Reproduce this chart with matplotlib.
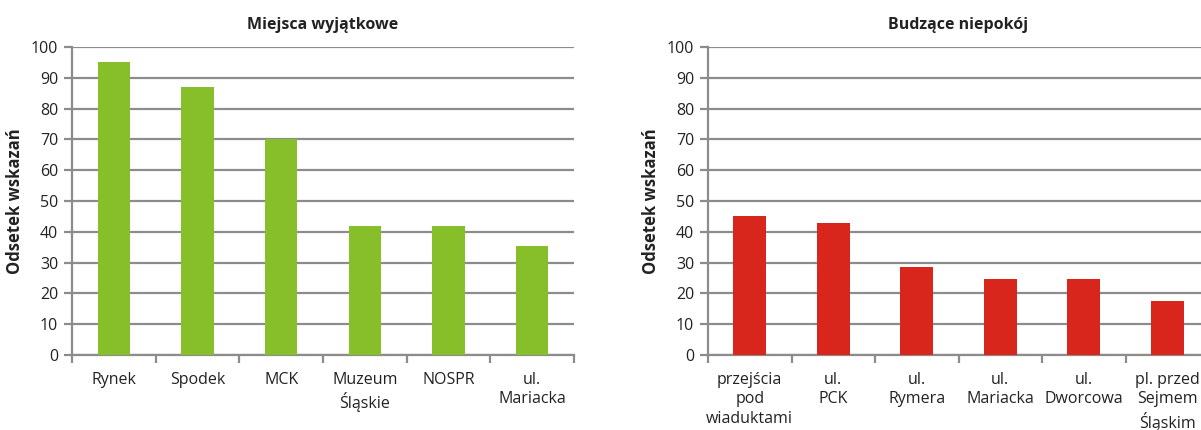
import matplotlib
matplotlib.use("Agg")
import matplotlib.pyplot as plt
import numpy as np

plt.rcParams['font.family'] = ['Open Sans', 'DejaVu Sans']

# Data
places_good = ["Rynek", "Spodek", "MCK", "Muzeum\nŚląskie", "NOSPR", "ul.\nMariacka"]
values_good = [95, 87, 70, 42, 42, 35.5]

places_bad = ["przejścia\npod\nwiaduktami", "ul.\nPCK", "ul.\nRymera",
              "ul.\nMariacka", "ul.\nDworcowa", "pl. przed\nSejmem\nŚląskim"]
values_bad = [45, 43, 28.7, 24.8, 24.8, 17.5]

titles = ["Miejsca wyjątkowe", "Budzące niepokój"]
ylabel = "Odsetek wskazań"
yticks = list(range(0, 101, 10))

GREEN = "#86bf2a"
RED = "#d9261c"
GRID = "#8c8c8c"
TEXT = "#222222"

W, H = 1201, 430
fig = plt.figure(figsize=(W / 100, H / 100), dpi=100)

def px_axes(x0, x1, y_top, y_bot):
    return fig.add_axes([x0 / W, 1 - y_bot / H, (x1 - x0) / W, (y_bot - y_top) / H])

ax1 = px_axes(72, 574, 47, 355)
ax2 = px_axes(708, 1209, 47, 355)

def draw(ax, labels, values, color, title):
    n = len(labels)
    x = np.arange(n)
    ax.bar(x, values, width=0.39, color=color, zorder=3)
    ax.set_xlim(-0.5, n - 0.5)
    ax.set_ylim(0, 100)
    ax.set_yticks(yticks)
    ax.set_yticklabels([str(v) for v in yticks], fontsize=11.5, color=TEXT)
    ax.yaxis.grid(True, color=GRID, linewidth=1.6, zorder=0)
    ax.set_axisbelow(True)
    # category labels at centres, tick marks at boundaries
    ax.set_xticks(x)
    ax.set_xticklabels(labels, fontsize=11.5, color=TEXT, linespacing=1.3, va="top")
    ax.tick_params(axis="x", which="major", length=0, pad=12)
    ax.set_xticks(np.arange(n + 1) - 0.5, minor=True)
    ax.tick_params(axis="x", which="minor", length=6, width=1.6, color=GRID, direction="out")
    ax.tick_params(axis="y", length=6, width=1.6, color=GRID, pad=4)
    for side in ("top", "right"):
        ax.spines[side].set_visible(False)
    for side in ("left", "bottom"):
        ax.spines[side].set_color(GRID)
        ax.spines[side].set_linewidth(1.6)
    ax.set_title(title, fontsize=11.5, fontweight="bold", color=TEXT, pad=13)
    ax.set_ylabel(ylabel, fontsize=12, fontweight="bold", color=TEXT, labelpad=5)

draw(ax1, places_good, values_good, GREEN, titles[0])
draw(ax2, places_bad, values_bad, RED, titles[1])

fig.savefig("out.png", dpi=100)
